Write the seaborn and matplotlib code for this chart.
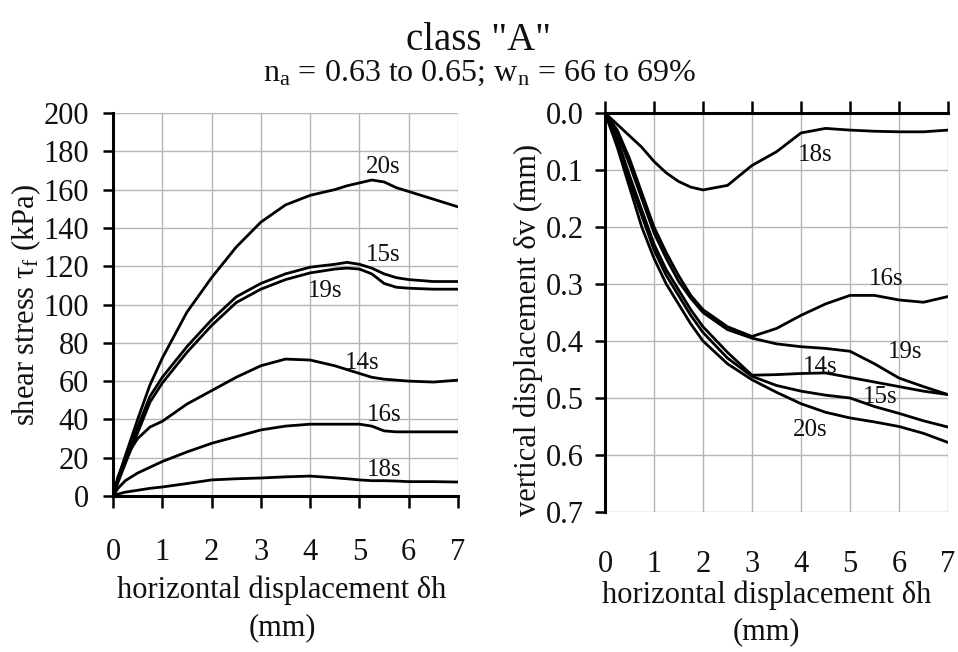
import numpy as np
import pandas as pd
import matplotlib
matplotlib.use("Agg")
import matplotlib.pyplot as plt
import seaborn as sns

# ---------------- data ----------------
dh_left = [0, 0.1, 0.25, 0.5, 0.75, 1, 1.5, 2, 2.5, 3, 3.5, 4, 4.5, 4.75, 5, 5.25, 5.5, 5.75, 6, 6.5, 7]
tau_20s = [0, 9, 21, 40, 58, 72, 96, 114, 130, 143, 152, 157, 160, 162, 163.5, 165, 164, 161, 159, 155, 151]
tau_15s = [0, 8, 19, 36, 52, 62, 78, 92, 104, 111, 116, 119.5, 121, 122, 121, 119, 116, 114, 113, 112, 112]
tau_19s = [0, 7, 17, 33, 49, 59, 75, 89, 101, 108, 113, 116.5, 118.5, 119, 118.5, 116, 111, 109, 108.5, 108, 108]
tau_14s = [0, 10, 20, 30, 36, 39, 48, 55, 62, 68, 71.5, 71, 68, 66, 64, 62, 61, 60.5, 60, 59.5, 60.5]
tau_16s = [0, 4, 8, 12, 15, 18, 23, 27.5, 31, 34.5, 36.5, 37.5, 37.5, 37.5, 37.5, 36.5, 34, 33.5, 33.5, 33.5, 33.5]
tau_18s = [0, 1, 2, 3, 4, 4.7, 6.5, 8.4, 9, 9.4, 10, 10.4, 9.5, 9, 8.4, 8, 8, 7.8, 7.5, 7.5, 7.3]

dh_right = [0, 0.25, 0.5, 0.75, 1, 1.25, 1.5, 1.75, 2, 2.5, 3, 3.5, 4, 4.5, 5, 5.5, 6, 6.5, 7]
dv_20s = [0, .06, .13, .20, .255, .30, .335, .37, .40, .44, .468, .49, .51, .525, .535, .542, .55, .562, .578]
dv_15s = [0, .05, .12, .18, .24, .285, .32, .355, .385, .43, .462, .478, .488, .495, .50, .515, .527, .54, .551]
dv_14s = [0, .045, .11, .17, .23, .275, .31, .345, .375, .42, .46, .459, .457, .456, .464, .472, .48, .488, .494]
dv_19s = [0, .035, .09, .15, .21, .255, .295, .325, .35, .38, .395, .405, .41, .413, .418, .44, .465, .48, .494]
dv_16s = [0, .03, .08, .14, .20, .245, .285, .32, .345, .375, .392, .378, .355, .335, .32, .32, .328, .332, .322]
dv_18s = [0, .02, .04, .06, .085, .105, .12, .13, .135, .127, .092, .068, .035, .027, .030, .032, .033, .033, .030]

series_names = ["20s", "15s", "19s", "14s", "16s", "18s"]
left_series = [tau_20s, tau_15s, tau_19s, tau_14s, tau_16s, tau_18s]
right_series = [dv_20s, dv_15s, dv_19s, dv_14s, dv_16s, dv_18s]

# label positions (data coords)
left_lbl = {"20s": (5.48, 172), "15s": (5.48, 126), "19s": (4.30, 107), "14s": (5.05, 69.5),
            "16s": (5.50, 42.5), "18s": (5.50, 13.5)}
right_lbl = {"18s": (4.29, 0.074), "16s": (5.73, 0.292), "19s": (6.12, 0.42), "14s": (4.39, 0.446),
             "15s": (5.61, 0.499), "20s": (4.18, 0.556)}

x_ticks = [0, 1, 2, 3, 4, 5, 6, 7]
tau_ticks = list(range(0, 201, 20))
dv_ticks = [0.0, 0.1, 0.2, 0.3, 0.4, 0.5, 0.6, 0.7]

# ---------------- style ----------------
sns.set_theme(style="white")
plt.rcParams["font.family"] = ["Liberation Serif", "DejaVu Serif"]
plt.rcParams["mathtext.fontset"] = "custom"
plt.rcParams["mathtext.rm"] = "Liberation Serif"
plt.rcParams["mathtext.it"] = "Liberation Serif:italic"
plt.rcParams["text.color"] = "#111111"
plt.rcParams["xtick.color"] = "black"
plt.rcParams["ytick.color"] = "black"
plt.rcParams["xtick.labelcolor"] = "#111111"
plt.rcParams["ytick.labelcolor"] = "#111111"
plt.rcParams["axes.labelcolor"] = "#111111"

W, H = 958, 652
fig = plt.figure(figsize=(W / 100, H / 100), dpi=100)
ax1 = fig.add_axes([113 / W, (H - 496) / H, 345 / W, 383 / H])
ax2 = fig.add_axes([605 / W, (H - 512) / H, 343 / W, 399 / H])

df_l = pd.DataFrame({
    "dh": np.concatenate([dh_left] * len(series_names)),
    "val": np.concatenate(left_series),
    "series": np.repeat(series_names, len(dh_left)),
})
df_r = pd.DataFrame({
    "dh": np.concatenate([dh_right] * len(series_names)),
    "val": np.concatenate(right_series),
    "series": np.repeat(series_names, len(dh_right)),
})

sns.lineplot(data=df_l, x="dh", y="val", units="series", estimator=None, sort=False,
             color="black", lw=2.0, ax=ax1, legend=False)
sns.lineplot(data=df_r, x="dh", y="val", units="series", estimator=None, sort=False,
             color="black", lw=2.0, ax=ax2, legend=False)

FS = 22
grid_c = "#b5b5b5"
px2pt = 0.72

for ax in (ax1, ax2):
    ax.set_xlim(0, 7)
    ax.set_xticks(x_ticks)
    ax.grid(True, color=grid_c, lw=1.0)
    ax.set_axisbelow(True)
    for s in ax.spines.values():
        s.set_visible(False)
    ax.set_facecolor("white")

# left panel
ax1.set_ylim(0, 200)
ax1.set_yticks(tau_ticks)
ax1.spines["left"].set_visible(True)
ax1.spines["bottom"].set_visible(True)
for s in ("left", "bottom"):
    ax1.spines[s].set_color("black")
    ax1.spines[s].set_linewidth(2.2)
ax1.tick_params(axis="y", direction="out", length=10 * px2pt, width=1.8,
                labelsize=FS, pad=14 * px2pt, left=True)
ax1.tick_params(axis="x", direction="out", length=12 * px2pt, width=1.8,
                labelsize=FS, pad=30 * px2pt, bottom=True)
ax1.set_xlabel("horizontal displacement δh\n(mm)", fontsize=FS, linespacing=1.35)
ax1.xaxis.set_label_coords(0.49, -0.208)
ax1.set_ylabel("")
fig.text(26 / W, 1 - 305 / H, r"shear stress τ$_\mathrm{f}$ (kPa)", rotation=90,
         ha="center", va="center", fontsize=FS)

# right panel
ax2.set_ylim(0.7, 0.0)
ax2.set_yticks(dv_ticks)
ax2.set_yticklabels([f"{v:.1f}" for v in dv_ticks])
ax2.spines["left"].set_visible(True)
ax2.spines["top"].set_visible(True)
for s in ("left", "top"):
    ax2.spines[s].set_color("black")
    ax2.spines[s].set_linewidth(2.2)
ax2.tick_params(axis="y", direction="out", length=10 * px2pt, width=1.8,
                labelsize=FS, pad=11 * px2pt, left=True)
ax2.tick_params(axis="x", direction="out", length=12 * px2pt, width=1.8,
                labelsize=FS, pad=26 * px2pt, top=True, bottom=False,
                labeltop=False, labelbottom=True)
ax2.set_xlabel("horizontal displacement δh\n(mm)", fontsize=FS, linespacing=1.3)
ax2.xaxis.set_label_coords(0.47, -0.172)
ax2.set_ylabel("")
fig.text(528 / W, 1 - 330 / H, "vertical displacement δv (mm)", rotation=90,
         ha="center", va="center", fontsize=FS)

# curve labels
for name, (x, y) in left_lbl.items():
    ax1.text(x, y, name, fontsize=18, ha="center", va="center")
for name, (x, y) in right_lbl.items():
    ax2.text(x, y, name, fontsize=18, ha="center", va="center")

# titles
fig.text(0.5, 1 - 40 / H, 'class "A"', ha="center", va="center", fontsize=28)
fig.text(0.5, 1 - 73 / H, r"n$_\mathrm{a}$ = 0.63 to 0.65; w$_\mathrm{n}$ = 66 to 69%",
         ha="center", va="center", fontsize=23)

fig.savefig("out.png", dpi=100)
